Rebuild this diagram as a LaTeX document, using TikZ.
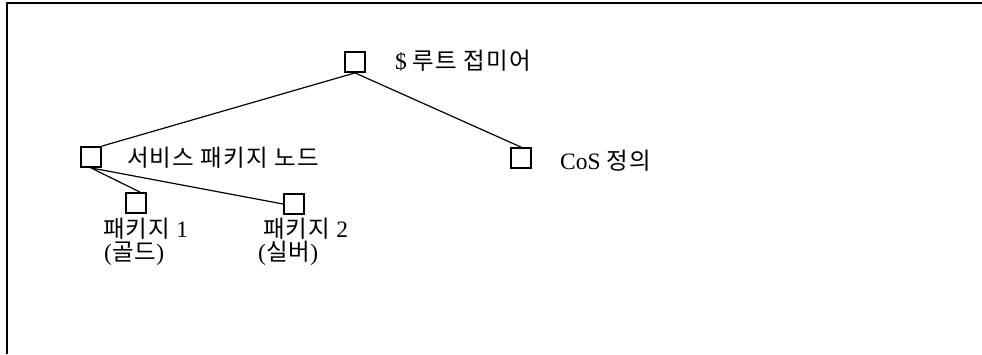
\documentclass[tikz,border=0pt]{standalone}
\usepackage{fontspec}
\setmainfont{Liberation Serif}
\newfontfamily\kr[LetterSpace=5]{Noto Sans CJK KR}
\usetikzlibrary{calc}
\begin{document}
\begin{tikzpicture}[x=1pt,y=-1pt,
  box/.style={draw,line width=1.8pt,minimum size=20pt,inner sep=0pt},
  conn/.style={line width=1.2pt},
  lbl/.style={anchor=base west,inner sep=0pt,font=\fontsize{23.5}{28}\selectfont}]
\useasboundingbox (0,0) rectangle (982,354);
\draw[line width=2.2pt] (982,3) -- (7,3) -- (7,354);
\node[box] (root) at (355,62) {};
\node[box] (svc) at (91,157) {};
\node[box] (cos) at (521,158) {};
\node[box] (p1) at (136,203) {};
\node[box] (p2) at (294,204) {};
\draw[conn] (root.south) -- (svc.north east);
\draw[conn] (root.south) -- (cos.north);
\draw[conn] (svc.south) -- ($(p1.north)+(4,0)$);
\draw[conn] (svc.south) -- (p2.west);
\node[lbl] (t1) at (395,69) {\$ {\kr 루트 접미어}};
\node[lbl] (t2) at (127,166) {\kr 서비스 패키지 노드};
\node[lbl] (t3) at (560,169) {CoS {\kr 정의}};
\node[lbl] (t4) at (103,237) {{\kr 패키지} 1};
\node[lbl] (t5) at (104,260) {({\kr 골드})};
\node[lbl] (t6) at (263,237) {{\kr 패키지} 2};
\node[lbl] (t7) at (258,260) {({\kr 실버})};
\end{tikzpicture}
\end{document}
